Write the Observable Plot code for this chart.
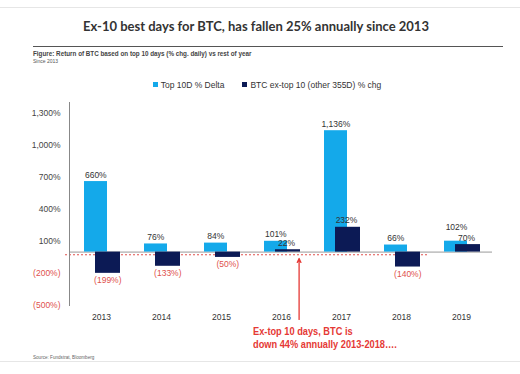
<!DOCTYPE html>
<html>
<head>
<meta charset="utf-8">
<script src="https://cdn.jsdelivr.net/npm/d3@7"></script>
<script src="https://cdn.jsdelivr.net/npm/@observablehq/plot@0.6"></script>
<style>
  html, body { margin: 0; padding: 0; background: #fff; }
  body { width: 520px; height: 374px; position: relative; overflow: hidden; font-family: "Liberation Sans", Arial, sans-serif; }
  .abs { position: absolute; }
  #title { left: 0; width: 512px; top: 18px; text-align: center; font-family: Lato, "Open Sans", sans-serif; font-weight: 700; font-size: 13px; color: #333; white-space: nowrap; }
  #rule { left: 33px; width: 470px; top: 46px; height: 0; border-top: 1px solid #555; }
  #sub { left: 33px; top: 50px; font-size: 6.3px; font-weight: bold; color: #444; white-space: nowrap; }
  #since { left: 33px; top: 58px; font-size: 5px; color: #555; }
  #legend { left: 0; width: 534px; top: 80px; text-align: center; font-size: 8.5px; color: #333; white-space: nowrap; }
  #legend span.sw { display: inline-block; width: 5px; height: 5px; margin-right: 3px; vertical-align: 1px; }
  #legend span.item { margin: 0 9px; }
  #chart { left: 0; top: 90px; }
  #note { left: 253px; top: 325px; font-family: "Liberation Sans", Arial, sans-serif; font-weight: bold; font-size: 11px; line-height: 13px; color: #e53935; white-space: nowrap; transform: scaleX(0.84); transform-origin: 0 0; }
  #source { left: 33px; top: 355px; font-size: 4.6px; color: #666; }
  .frame-line { left: 0; width: 520px; height: 0; border-top: 1px solid #e6e6e6; }
</style>
</head>
<body>
<div class="abs frame-line" style="top:7px"></div>
<div class="abs" id="title"></div>
<div class="abs" id="rule"></div>
<div class="abs" id="sub"></div>
<div class="abs" id="since"></div>
<div class="abs" id="legend"></div>
<div class="abs" id="chart"></div>
<div class="abs" id="note"></div>
<div class="abs" id="source"></div>
<div class="abs frame-line" style="top:361px"></div>
<script>
// ---- data ----
const years = ["2013", "2014", "2015", "2016", "2017", "2018", "2019"];
const top10Delta = [660, 76, 84, 101, 1136, 66, 102];
const exTop10Chg = [-199, -133, -50, 22, 232, -140, 70];
const yTicks = [1300, 1000, 700, 400, 100, -200, -500];
const seriesNames = ["Top 10D % Delta", "BTC ex-top 10 (other 355D) % chg"];
const annualLine = [-25];
const arrowSpan = [{year: "2016", from: -630, to: -60}];
const titleText = "Ex-10 best days for BTC, has fallen 25% annually since 2013";
const subtitleText = "Figure: Return of BTC based on top 10 days (% chg. daily) vs rest of year";
const sinceText = "Since 2013";
const noteLines = ["Ex-top 10 days, BTC is", "down 44% annually 2013-2018…."];
const sourceText = "Source: Fundstrat, Bloomberg";

const LIGHT = "#14a9ea";
const DARK = "#0c1a55";
const RED = "#e0504d";
const NOTE_RED = "#e53935";

const rows = years.map((year, i) => ({year, top: top10Delta[i], ex: exTop10Chg[i]}));
const fmt = v => v < 0 ? `(${d3.format(",")(-v)}%)` : `${d3.format(",")(v)}%`;
// raise a light-bar label when the dark-bar label next to it sits at nearly the same height
const crowded = d => d.ex >= 0 && Math.abs(d.top - d.ex) < 50;

document.getElementById("title").textContent = titleText;
document.getElementById("sub").textContent = subtitleText;
document.getElementById("since").textContent = sinceText;
document.getElementById("note").innerHTML = noteLines.join("<br>");
document.getElementById("source").textContent = sourceText;
document.getElementById("legend").innerHTML =
  `<span class="item"><span class="sw" style="background:${LIGHT}"></span>${seriesNames[0]}</span>` +
  `<span class="item"><span class="sw" style="background:${DARK}"></span>${seriesNames[1]}</span>`;

const chart = Plot.plot({
  width: 520,
  height: 284,
  marginTop: 12,
  marginBottom: 69,
  marginLeft: 69,
  marginRight: 28,
  x: {domain: years, padding: 0},
  y: {domain: [-500, 1400]},
  style: {fontFamily: "'Liberation Sans', Arial, sans-serif", fontSize: "8.5px", background: "transparent", overflow: "visible"},
  marks: [
    Plot.ruleY(annualLine, {stroke: RED, strokeDasharray: "2,2", strokeWidth: 1, insetLeft: -4, insetRight: 65}),
    Plot.ruleY([0], {stroke: "#9a9a9a"}),
    Plot.barY(rows, {x: "year", y: "top", fill: LIGHT, insetLeft: 13, insetRight: 24}),
    Plot.barY(rows, {x: "year", y: "ex", fill: DARK, insetLeft: 24, insetRight: 11}),
    Plot.frame({anchor: "left", stroke: "#888"}),
    Plot.axisY(yTicks.filter(d => d >= 0), {tickSize: 0, tickPadding: 9, tickFormat: fmt, fill: "#444", label: null}),
    Plot.axisY(yTicks.filter(d => d < 0), {tickSize: 0, tickPadding: 9, tickFormat: fmt, fill: RED, label: null}),
    Plot.axisX({tickSize: 0, tickPadding: 8, fill: "#333", label: null}),
    Plot.text(rows.filter(d => !crowded(d)), {x: "year", y: "top", text: d => fmt(d.top), dx: -5.7, dy: -4, lineAnchor: "bottom", fill: "#333"}),
    Plot.text(rows.filter(crowded), {x: "year", y: "top", text: d => fmt(d.top), dx: -5, dy: -11, lineAnchor: "bottom", fill: "#333"}),
    Plot.text(rows.filter(d => d.ex >= 0), {x: "year", y: "ex", text: d => fmt(d.ex), dx: 5, dy: -4, lineAnchor: "bottom", fill: "#333"}),
    Plot.text(rows.filter(d => d.ex < 0), {x: "year", y: "ex", text: d => fmt(d.ex), dx: 6.3, dy: 4, lineAnchor: "top", fill: RED}),
    Plot.arrow(arrowSpan, {x1: "year", x2: "year", y1: "from", y2: "to", dx: 17.6, stroke: NOTE_RED, strokeWidth: 1.3, headLength: 5, headAngle: 50})
  ]
});
document.getElementById("chart").appendChild(chart);
</script>
</body>
</html>
